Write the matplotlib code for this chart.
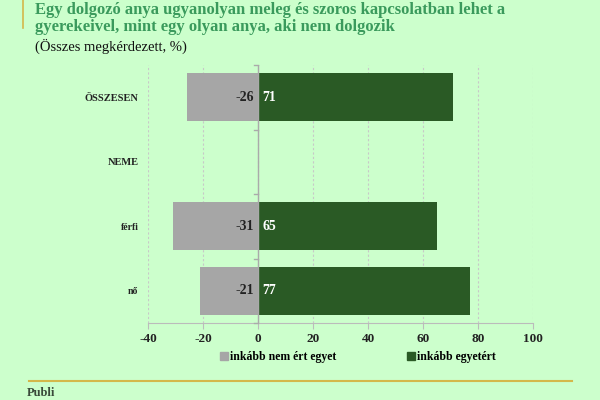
import matplotlib
matplotlib.use("Agg")
import matplotlib.pyplot as plt
from matplotlib.lines import Line2D
import numpy as np

categories = ["ÖSSZESEN", "NEME", "férfi", "nő"]
disagree = [-26, None, -31, -21]
agree = [71, None, 65, 77]
xticks = [-40, -20, 0, 20, 40, 60, 80, 100]
series_names = ["inkább nem ért egyet", "inkább egyetért"]

BG = "#ccffcc"
GRAY = "#a6a6a6"
GREEN = "#2a5a25"
TITLE_C = "#3a9a5c"
GOLD = "#d4b84a"

plt.rcParams['font.family'] = ['Liberation Serif', 'DejaVu Serif']

fig = plt.figure(figsize=(6, 4), dpi=100, facecolor=BG)
ax = fig.add_axes([0.2467, 0.1925, 0.6417, 0.645], facecolor=BG)

y = np.arange(len(categories))
h = 0.74
for i, (d, a) in enumerate(zip(disagree, agree)):
    if d is None:
        continue
    ax.barh(i, d, height=h, color=GRAY, zorder=2)
    ax.barh(i, a, height=h, color=GREEN, zorder=2)
    ax.text(-1.6, i, f"{d}", ha='right', va='center', fontsize=10,
            fontweight='bold', color='#222222', zorder=3)
    ax.text(1.6, i, f"{a}", ha='left', va='center', fontsize=10,
            fontweight='bold', color='white', zorder=3)

ax.set_xlim(-40, 100)
ax.set_ylim(len(categories) - 0.5, -0.5)
ax.set_xticks(xticks)
ax.set_xticklabels([str(t) for t in xticks], fontsize=9.5, fontweight='bold', color='#222222')
ax.set_yticks(y)
labels = ax.set_yticklabels(categories, fontweight='bold', color='#222222')
for lab, txt in zip(labels, categories):
    lab.set_fontsize(7.5 if txt.isupper() else 7)
ax.tick_params(axis='y', length=0, pad=7)
ax.tick_params(axis='x', length=4, color='#bbbbbb', pad=3)

ax.grid(axis='x', linestyle=(0, (2, 2)), color='#c8c8c8', linewidth=0.8, zorder=0)
for s in ['top', 'right', 'left']:
    ax.spines[s].set_visible(False)
ax.spines['bottom'].set_color('#bbbbbb')
ax.axvline(0, color='#aaaaaa', linewidth=1.0, zorder=4)
for b in np.arange(-0.5, len(categories), 1.0):
    ax.plot([0, -1.3], [b, b], color='#aaaaaa', linewidth=1.0, zorder=4, clip_on=False)

handles = [Line2D([], [], marker='s', linestyle='none', markersize=5.5, color=GRAY),
           Line2D([], [], marker='s', linestyle='none', markersize=5.5, color=GREEN)]
fig.legend(handles, series_names, loc='center', bbox_to_anchor=(0.596, 0.107), ncol=2,
           frameon=False, prop={'weight': 'bold', 'size': 8.5}, handletextpad=0.1,
           columnspacing=6.0, handlelength=0.8)

fig.text(0.058, 0.975, "Egy dolgozó anya ugyanolyan meleg és szoros kapcsolatban lehet a",
         fontsize=12, color=TITLE_C, fontweight='bold', va='center', ha='left')
fig.text(0.058, 0.932, "gyerekeivel, mint egy olyan anya, aki nem dolgozik",
         fontsize=12, color=TITLE_C, fontweight='bold', va='center', ha='left')
fig.text(0.058, 0.885, "(Összes megkérdezett, %)", fontsize=10.5, color='#111111',
         va='center', ha='left')

fig.add_artist(Line2D([0.038, 0.038], [0.93, 1.0], color=GOLD, linewidth=1.2, transform=fig.transFigure))
fig.add_artist(Line2D([0.048, 0.953], [0.047, 0.047], color=GOLD, linewidth=1.5, transform=fig.transFigure))
fig.text(0.045, 0.002, "Publi", fontsize=9, fontweight='bold', color='#3a4a3a', va='bottom', ha='left')

fig.savefig("out.png", dpi=100, facecolor=BG)
